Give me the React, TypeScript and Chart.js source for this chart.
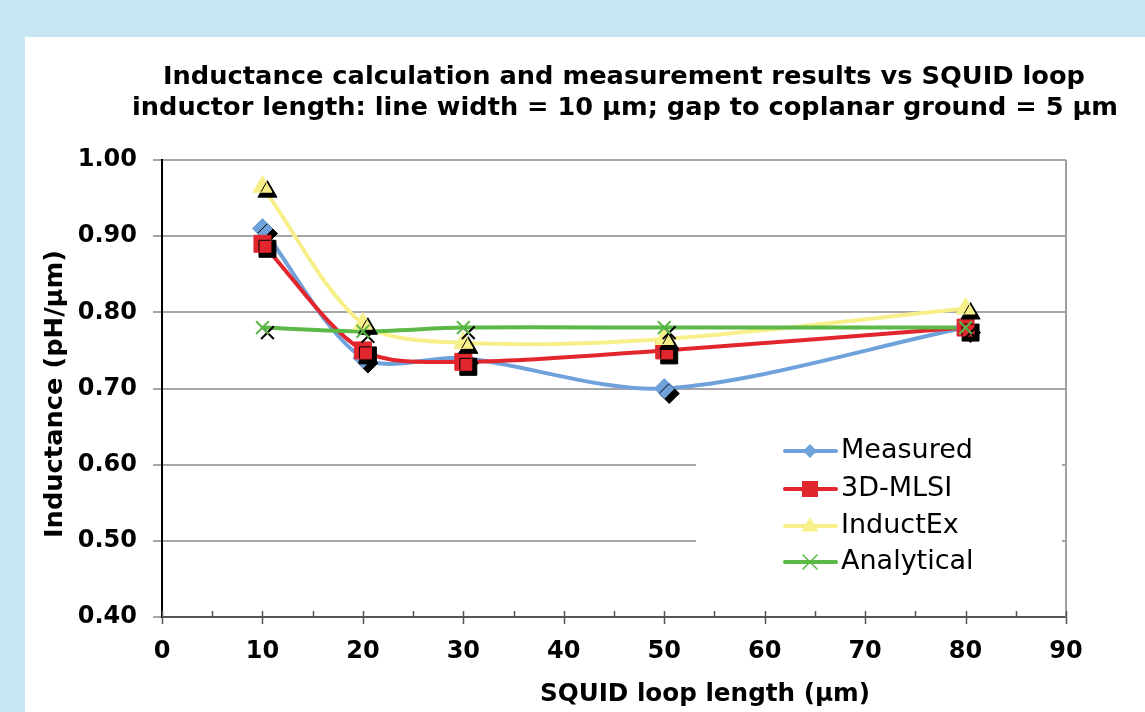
import React, { useEffect, useRef } from 'react';
import { Chart, registerables } from 'chart.js';

Chart.register(...registerables);

// ---- data ----
const xValues = [10, 20, 30, 50, 80];
const measured = [0.91, 0.74, 0.74, 0.7, 0.78];
const mlsi = [0.89, 0.75, 0.735, 0.75, 0.78];
const inductex = [0.965, 0.785, 0.76, 0.765, 0.805];
const analytical = [0.78, 0.775, 0.78, 0.78, 0.78];
const seriesNames = ['Measured', '3D-MLSI', 'InductEx', 'Analytical'];
const titleLines = [
  'Inductance calculation and measurement results vs SQUID loop',
  'inductor length: line width = 10 µm; gap to coplanar ground = 5 µm',
];
const xTitle = 'SQUID loop length (µm)';
const yTitle = 'Inductance (pH/µm)';
const xTickLabels = ['0', '10', '20', '30', '40', '50', '60', '70', '80', '90'];
const yTickLabels = ['0.40', '0.50', '0.60', '0.70', '0.80', '0.90', '1.00'];

// ---- styles ----
const colors = ['#6fa2db', '#e1262e', '#f7f08a', '#5cb947'];
const pointStyles = ['rectRot', 'rect', 'triangle', 'crossRot'];
const pointRadii = [10, 12, 11, 9];
const FONT = '"DejaVu Sans", Verdana, sans-serif';

function drawMarker(ctx: CanvasRenderingContext2D, style: string, x: number, y: number, r: number, color: string) {
  ctx.save();
  ctx.fillStyle = color;
  ctx.strokeStyle = color;
  ctx.lineWidth = 1.5;
  ctx.beginPath();
  if (style === 'rectRot') {
    ctx.moveTo(x, y - r);
    ctx.lineTo(x + r, y);
    ctx.lineTo(x, y + r);
    ctx.lineTo(x - r, y);
    ctx.closePath();
    ctx.fill();
  } else if (style === 'rect') {
    ctx.rect(x - r, y - r, 2 * r, 2 * r);
    ctx.fill();
  } else if (style === 'triangle') {
    ctx.moveTo(x, y - r);
    ctx.lineTo(x + r * 0.95, y + r * 0.6);
    ctx.lineTo(x - r * 0.95, y + r * 0.6);
    ctx.closePath();
    ctx.fill();
  } else {
    ctx.moveTo(x - r, y - r);
    ctx.lineTo(x + r, y + r);
    ctx.moveTo(x + r, y - r);
    ctx.lineTo(x - r, y + r);
    ctx.stroke();
  }
  ctx.restore();
}

// draw bold text centred at (cx, cy), stretched to a target width
function fitText(ctx: CanvasRenderingContext2D, text: string, cx: number, cy: number, size: number, width: number, rotate = 0) {
  ctx.save();
  ctx.font = `bold ${size}px ${FONT}`;
  ctx.textAlign = 'center';
  ctx.textBaseline = 'middle';
  ctx.fillStyle = '#000';
  const w = ctx.measureText(text).width;
  ctx.translate(cx, cy);
  if (rotate) ctx.rotate(rotate);
  ctx.scale(width / w, 1);
  ctx.fillText(text, 0, 0);
  ctx.restore();
}

const decorPlugin = {
  id: 'decor',
  beforeDatasetDraw(chart: any, args: any) {
    const ds = chart.data.datasets[args.index];
    if (ds.isMarker) {
      const ctx = chart.ctx;
      ctx.save();
      ctx.shadowColor = '#000';
      ctx.shadowOffsetX = 5;
      ctx.shadowOffsetY = 5;
      ctx.shadowBlur = 0;
    }
  },
  afterDatasetDraw(chart: any, args: any) {
    const ds = chart.data.datasets[args.index];
    if (ds.isMarker) chart.ctx.restore();
  },
  afterDraw(chart: any) {
    const ctx: CanvasRenderingContext2D = chart.ctx;
    const area = chart.chartArea;
    const xs = chart.scales.x;
    ctx.save();
    // right border
    ctx.strokeStyle = '#a0a0a0';
    ctx.lineWidth = 2;
    ctx.beginPath();
    ctx.moveTo(area.right, area.top);
    ctx.lineTo(area.right, area.bottom);
    ctx.stroke();
    // x ticks (major crossing, minor inside)
    ctx.strokeStyle = '#555';
    ctx.lineWidth = 1.5;
    for (let v = 0; v <= 90; v += 5) {
      const px = Math.round(xs.getPixelForValue(v)) + 0.5;
      const major = v % 10 === 0;
      ctx.beginPath();
      ctx.moveTo(px, area.bottom - 6);
      ctx.lineTo(px, major ? area.bottom + 7 : area.bottom);
      ctx.stroke();
    }
    // legend box
    ctx.fillStyle = '#fff';
    ctx.fillRect(696, 425, 366, 178);
    const rows = [451, 489, 526, 562];
    const legendR = [7, 8, 9, 7];
    seriesNames.forEach((name, i) => {
      const y = rows[i];
      ctx.strokeStyle = colors[i];
      ctx.lineWidth = 4;
      ctx.lineCap = 'round';
      ctx.beginPath();
      ctx.moveTo(785, y);
      ctx.lineTo(836, y);
      ctx.stroke();
      drawMarker(ctx, pointStyles[i], 810, y, legendR[i], colors[i]);
      ctx.fillStyle = '#000';
      ctx.font = `27px ${FONT}`;
      ctx.textAlign = 'left';
      ctx.textBaseline = 'middle';
      ctx.fillText(name, 841, y);
    });
    ctx.restore();
    // titles
    fitText(ctx, titleLines[0], 624, 77, 25.5, 922);
    fitText(ctx, titleLines[1], 625, 108, 25.5, 986);
    fitText(ctx, xTitle, 705, 695, 24.5, 330);
    fitText(ctx, yTitle, 55, 394, 25.5, 288, -Math.PI / 2);
  },
};

export default function App() {
  const ref = useRef<HTMLCanvasElement>(null);
  useEffect(() => {
    const canvas = ref.current!;
    const seriesData = [measured, mlsi, inductex, analytical];
    const lineSets = seriesData.map((vals, i) => ({
      label: seriesNames[i],
      data: xValues.map((x, k) => ({ x, y: vals[k] })),
      borderColor: colors[i],
      backgroundColor: colors[i],
      borderWidth: 4,
      tension: 0.3,
      pointRadius: 0,
      fill: false,
      order: 8 - i,
      isMarker: false,
    }));
    const markerSets = seriesData.map((vals, i) => ({
      label: seriesNames[i] + ' markers',
      data: xValues.map((x, k) => ({ x, y: vals[k] })),
      showLine: false,
      pointStyle: pointStyles[i],
      pointRadius: pointRadii[i],
      pointBackgroundColor: colors[i],
      pointBorderColor: colors[i],
      pointBorderWidth: i === 3 ? 2 : 1,
      order: 4 - i,
      isMarker: true,
    }));
    const chart = new Chart(canvas, {
      type: 'line',
      data: { datasets: [...lineSets, ...markerSets] as any },
      options: {
        animation: false,
        responsive: false,
        events: [],
        layout: { padding: { left: 0, right: 79, top: 160, bottom: 0 } },
        plugins: { legend: { display: false }, tooltip: { enabled: false }, title: { display: false } },
        scales: {
          x: {
            type: 'linear',
            min: 0,
            max: 90,
            afterFit: (s: any) => { s.height = 95; },
            afterBuildTicks: (s: any) => { s.ticks = xTickLabels.map((t) => ({ value: Number(t) })); },
            grid: { display: false, drawTicks: false },
            border: { display: true, color: '#555', width: 2 },
            ticks: {
              padding: 20,
              color: '#000',
              font: { family: FONT, weight: 'bold', size: 24 },
              callback: (v: any) => String(v),
            },
          },
          y: {
            type: 'linear',
            min: 0.4,
            max: 1.0,
            afterFit: (s: any) => { s.width = 162; },
            afterBuildTicks: (s: any) => { s.ticks = yTickLabels.map((t) => ({ value: Number(t) })); },
            grid: { color: '#a6a6a6', lineWidth: 2, tickLength: 9, tickColor: '#a6a6a6' },
            border: { display: true, color: '#000', width: 2 },
            ticks: {
              padding: 16,
              color: '#000',
              font: { family: FONT, weight: 'bold', size: 24 },
              callback: (v: any) => Number(v).toFixed(2),
            },
          },
        },
      },
      plugins: [decorPlugin],
    });
    return () => chart.destroy();
  }, []);
  return (
    <div style={{ position: 'fixed', left: 0, top: 0, width: 1145, height: 712, background: '#c8e6f2', overflow: 'hidden' }}>
      <div style={{ position: 'absolute', left: 25, top: 37, right: 0, bottom: 0, background: '#fff' }} />
      <canvas ref={ref} width={1145} height={712} style={{ position: 'absolute', left: 0, top: 0, display: 'block' }} />
    </div>
  );
}
